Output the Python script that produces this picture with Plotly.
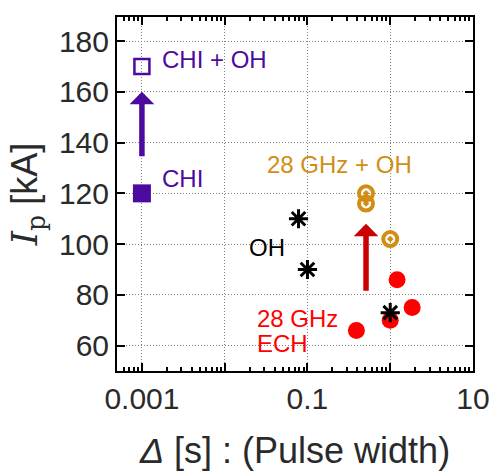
import numpy as np
import plotly.graph_objects as go

# ---- data ----
chi_x = [0.001]
chi_y = [120]
chi_oh_x = [0.001]
chi_oh_y = [170]
oh_x = [0.078, 0.1, 1.0]
oh_y = [110, 90, 73]
ech_x = [0.39, 1.0, 1.21, 1.84]
ech_y = [66, 70, 86, 75]
ech_oh_x = [0.51, 0.51, 1.0]
ech_oh_y = [120, 116, 102]
# arrows: x position, start value, end value
arrow_x = [0.001, 0.51]
arrow_from = [134, 81]
arrow_to = [160, 108]

x_tickvals = [0.001, 0.01, 0.1, 1, 10]
x_ticktext = ["0.001", " ", "0.1", " ", "10"]
y_tickvals = [60, 80, 100, 120, 140, 160, 180]
x_minor = [m * 10.0 ** e for e in range(-4, 1) for m in range(2, 10)]

PURPLE = "#4d0a9e"
ORANGE = "#d08e14"
RED = "#ff0000"
DARKRED = "#cc0000"
FONT = "Liberation Sans, Arial, sans-serif"
TXT = "#2a2a2a"

fig = go.Figure()
fig.add_trace(go.Scatter(x=chi_x, y=chi_y, mode="markers",
                         marker=dict(symbol="square", size=18, color=PURPLE)))
fig.add_trace(go.Scatter(x=chi_oh_x, y=chi_oh_y, mode="markers",
                         marker=dict(symbol="square-open", size=15, color=PURPLE,
                                     line=dict(width=2.5, color=PURPLE))))
fig.add_trace(go.Scatter(x=ech_x, y=ech_y, mode="markers",
                         marker=dict(symbol="circle", size=17, color=RED)))
fig.add_trace(go.Scatter(x=ech_oh_x, y=ech_oh_y, mode="markers",
                         marker=dict(symbol="circle-open-dot", size=14, color=ORANGE,
                                     line=dict(width=4, color=ORANGE))))
fig.add_trace(go.Scatter(x=oh_x, y=oh_y, mode="markers",
                         marker=dict(symbol="asterisk-open", size=16, color="black",
                                     line=dict(width=3, color="black"))))

annots = []
for ax_, y0, y1, col in zip(arrow_x, arrow_from, arrow_to, [PURPLE, DARKRED]):
    lx = float(np.log10(ax_))
    annots.append(dict(x=lx, y=y1, ax=lx, ay=y0, xref="x", yref="y",
                       axref="x", ayref="y", text="", showarrow=True,
                       arrowhead=1, arrowwidth=5.5, arrowsize=0.75,
                       arrowcolor=col, standoff=0, startstandoff=0))

def lab(text, x, y, color, xanchor="left"):
    return dict(x=x, y=y, xref="x", yref="y", text=text, showarrow=False,
                xanchor=xanchor, yanchor="middle",
                font=dict(family=FONT, size=24, color=color))

annots += [
    lab("CHI + OH", -2.787, 172.9, PURPLE),
    lab("CHI", -2.787, 125.8, PURPLE),
    lab("28 GHz + OH", -0.618, 131.5, ORANGE, "center"),
    lab("OH", -1.486, 98.7, "black", "center"),
    lab("28 GHz", -1.63, 70.7, RED),
    lab("ECH", -1.63, 60.9, RED),
]

axis_common = dict(showline=True, linecolor="black", linewidth=2, mirror="allticks",
                   ticks="inside", tickcolor="black", tickwidth=2, ticklen=8,
                   showgrid=True, gridcolor="#808080", gridwidth=1, griddash="1px,2px",
                   zeroline=False, automargin=False,
                   tickfont=dict(family=FONT, size=30, color=TXT))

fig.update_layout(
    width=490, height=472,
    margin=dict(l=117, r=17, t=17, b=101),
    plot_bgcolor="white", paper_bgcolor="white",
    showlegend=False,
    annotations=annots,
    xaxis=dict(type="log", range=[np.log10(0.0005), 1],
               tickvals=x_tickvals, ticktext=x_ticktext,
               minor=dict(ticks="inside", ticklen=4, tickwidth=1.5, tickcolor="black",
                          tickvals=x_minor, showgrid=False),
               title=dict(text="<i>Δ</i> [s] : (Pulse width)",
                          font=dict(family=FONT, size=36, color=TXT), standoff=24),
               **axis_common),
    yaxis=dict(range=[50, 189.5], tickvals=y_tickvals,
               title=dict(text="<span style=\"font-family:'DejaVu Serif'\"><i>I</i><sub>p</sub></span> [kA]",
                          font=dict(family=FONT, size=36, color=TXT), standoff=10),
               **axis_common),
)

fig.write_html("out.html", config={"displayModeBar": False},
               post_script="document.body.style.margin='0px';document.body.style.padding='0px';")
